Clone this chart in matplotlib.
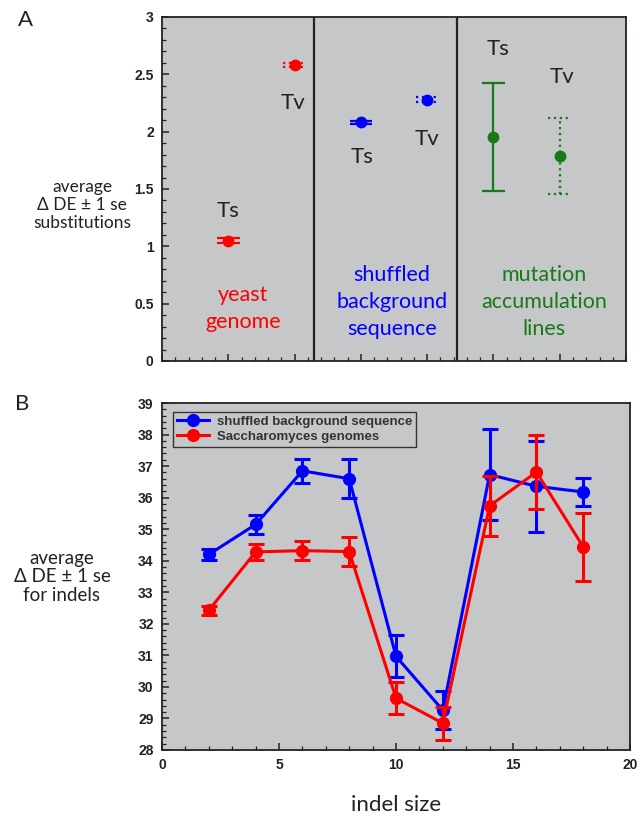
import matplotlib
matplotlib.use("Agg")
import matplotlib.pyplot as plt
from matplotlib.ticker import MultipleLocator
import numpy as np

# ---------------- Panel A data ----------------
a_pos = [1, 2, 3, 4, 5, 6]
a_labels = ["Ts", "Tv", "Ts", "Tv", "Ts", "Tv"]
a_vals = [1.05, 2.58, 2.08, 2.28, 1.95, 1.79]
a_err = [0.02, 0.02, 0.015, 0.02, 0.47, 0.33]
a_colors = ["#ff0000", "#ff0000", "#0000ff", "#0000ff", "#177a17", "#177a17"]
a_label_xy = [(1.0, 1.31), (1.97, 2.25), (3.02, 1.78), (4.0, 1.94), (5.07, 2.72), (6.03, 2.48)]
a_groups = ["yeast\ngenome", "shuffled\nbackground\nsequence", "mutation\naccumulation\nlines"]
a_group_xy = [(1.22, 0.46), (3.47, 0.515), (5.76, 0.515)]
a_group_colors = ["#ff0000", "#0000ff", "#177a17"]
a_separators = [2.29, 4.455]

# ---------------- Panel B data ----------------
b_x = [2, 4, 6, 8, 10, 12, 14, 16, 18]
b_shuffled = [34.2, 35.15, 36.85, 36.6, 30.97, 29.26, 36.73, 36.36, 36.18]
b_shuffled_err = [0.17, 0.3, 0.38, 0.62, 0.67, 0.6, 1.44, 1.44, 0.45]
b_sacch = [32.43, 34.28, 34.32, 34.29, 29.64, 28.85, 35.74, 36.81, 34.44]
b_sacch_err = [0.14, 0.25, 0.31, 0.47, 0.51, 0.52, 0.96, 1.17, 1.07]

BG = "#c6c7c9"
LABEL_FONT = ["Lato", "DejaVu Sans"]
TICK_FONT = ["Liberation Sans", "DejaVu Sans"]

plt.rcParams["font.family"] = TICK_FONT
plt.rcParams["font.weight"] = "bold"
plt.rcParams["xtick.labelsize"] = 10
plt.rcParams["ytick.labelsize"] = 10
plt.rcParams["xtick.color"] = "#222222"
plt.rcParams["ytick.color"] = "#222222"

fig = plt.figure(figsize=(6.43, 8.16), dpi=100)

def style_axes(ax):
    ax.set_facecolor(BG)
    for s in ax.spines.values():
        s.set_linewidth(1.3)
        s.set_color("#222222")
    ax.tick_params(which="both", direction="in", top=False, right=False, color="#222222")
    ax.tick_params(which="major", length=5, width=1.1, pad=6)
    ax.tick_params(which="minor", length=3, width=0.9)

# ---------------- Panel A ----------------
axA = fig.add_axes([0.252, 0.5576, 0.7216, 0.4216])
axA.set_xlim(0, 7)
axA.set_ylim(0, 3)
axA.xaxis.set_major_locator(MultipleLocator(1))
axA.xaxis.set_minor_locator(MultipleLocator(0.2))
axA.yaxis.set_major_locator(MultipleLocator(0.5))
axA.yaxis.set_minor_locator(MultipleLocator(0.1))
axA.set_yticks([0, 0.5, 1, 1.5, 2, 2.5, 3])
axA.set_yticklabels(["0", "0.5", "1", "1.5", "2", "2.5", "3"])
axA.set_xticklabels([])
style_axes(axA)

for xs in a_separators:
    axA.axvline(xs, color="#222222", lw=1.6, zorder=2)

capw = 0.17
for i, (x, v, e, c, lab) in enumerate(zip(a_pos, a_vals, a_err, a_colors, a_labels)):
    ls = "-" if lab == "Ts" else ":"
    axA.vlines(x, v - e, v + e, colors=c, linestyles=ls, lw=1.6, zorder=3)
    axA.hlines([v - e, v + e], x - capw, x + capw, colors=c, linestyles=ls, lw=1.6, zorder=3)
    axA.plot([x], [v], "o", color=c, ms=7.5, zorder=4)
    tx, ty = a_label_xy[i]
    axA.text(tx, ty, lab, ha="center", va="center", fontsize=16, fontweight="normal",
             family=LABEL_FONT, color="#222222")

for txt, (gx, gy), gc in zip(a_groups, a_group_xy, a_group_colors):
    axA.text(gx, gy, txt, ha="center", va="center", fontsize=15.5, fontweight="normal",
             family=LABEL_FONT, color=gc, linespacing=1.45)

fig.text(82 / 643, 1 - 205 / 816, "average\n\u0394 DE \u00b1 1 se\nsubstitutions",
         ha="center", va="center", fontsize=12.5, fontweight="normal",
         family=LABEL_FONT, color="#222222", linespacing=1.12)
fig.text(25 / 643, 1 - 20 / 816, "A", ha="center", va="center", fontsize=16,
         fontweight="normal", family=LABEL_FONT, color="#222222")

# ---------------- Panel B ----------------
axB = fig.add_axes([0.252, 0.0809, 0.7278, 0.4252])
axB.set_xlim(0, 20)
axB.set_ylim(28, 39)
axB.xaxis.set_major_locator(MultipleLocator(5))
axB.xaxis.set_minor_locator(MultipleLocator(1))
axB.yaxis.set_major_locator(MultipleLocator(1))
axB.yaxis.set_minor_locator(MultipleLocator(0.2))
style_axes(axB)

axB.errorbar(b_x, b_shuffled, yerr=b_shuffled_err, color="#0000ff", lw=2.2,
             marker="o", ms=8.5, capsize=6, capthick=2.2, elinewidth=2.2,
             label="shuffled background sequence", zorder=3)
axB.errorbar(b_x, b_sacch, yerr=b_sacch_err, color="#ff0000", lw=2.2,
             marker="o", ms=8.5, capsize=6, capthick=2.2, elinewidth=2.2,
             label="Saccharomyces genomes", zorder=4)

handles, labels = axB.get_legend_handles_labels()
handles = [h[0] for h in handles]
leg = axB.legend(handles, labels, loc="upper left", bbox_to_anchor=(0.024, 0.975),
                 borderaxespad=0, frameon=True, fancybox=False,
                 prop={"family": TICK_FONT, "weight": "bold", "size": 9.5},
                 handlelength=2.4, borderpad=0.3, labelspacing=0.2,
                 handletextpad=0.6)
leg.get_frame().set_facecolor(BG)
leg.get_frame().set_edgecolor("#333333")
leg.get_frame().set_linewidth(1.0)
leg.get_frame().set_alpha(1)
for t in leg.get_texts():
    t.set_color("#333333")

axB.set_xlabel("indel size", fontsize=16, fontweight="normal", family=LABEL_FONT,
               color="#222222", labelpad=16)

fig.text(62 / 643, 1 - 577 / 816, "average\n\u0394 DE \u00b1 1 se\nfor indels",
         ha="center", va="center", fontsize=13.5, fontweight="normal",
         family=LABEL_FONT, color="#222222", linespacing=1.08)
fig.text(22 / 643, 1 - 404 / 816, "B", ha="center", va="center", fontsize=16,
         fontweight="normal", family=LABEL_FONT, color="#222222")

fig.savefig("out.png", dpi=100, facecolor="white")
